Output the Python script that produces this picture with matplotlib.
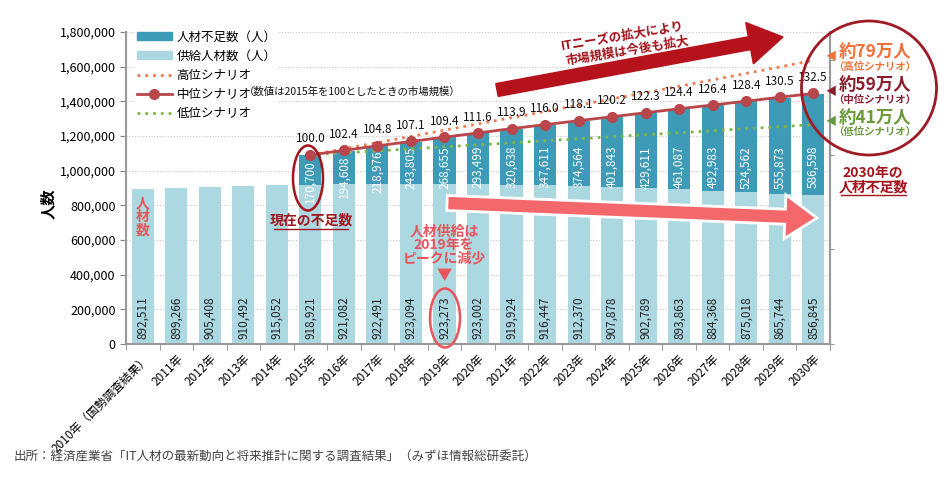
import matplotlib
matplotlib.use("Agg")
import matplotlib.pyplot as plt
from matplotlib.patches import Ellipse, FancyArrow, Patch
from matplotlib.lines import Line2D
from matplotlib.ticker import FuncFormatter, FixedLocator

plt.rcParams['font.family'] = ['Noto Sans CJK JP', 'DejaVu Sans']

# data
years = ["2010年（国勢調査結果）", "2011年", "2012年", "2013年", "2014年", "2015年", "2016年",
         "2017年", "2018年", "2019年", "2020年", "2021年", "2022年", "2023年", "2024年",
         "2025年", "2026年", "2027年", "2028年", "2029年", "2030年"]
supply = [892511, 899266, 905408, 910492, 915052, 918921, 921082, 922491, 923094, 923273,
          923002, 919924, 916447, 912370, 907878, 902789, 893863, 884368, 875018, 865744, 856845]
shortage = [0, 0, 0, 0, 0, 170700, 194608, 218976, 243805, 268655, 293499, 320638, 347611,
            374564, 401843, 429611, 461087, 492983, 524562, 555873, 586598]
# market size index (2015 = 100), from 2015 on
index_mid = [100.0, 102.4, 104.8, 107.1, 109.4, 111.6, 113.9, 116.0, 118.1, 120.2, 122.3,
             124.4, 126.4, 128.4, 130.5, 132.5]
index_high = [100.0, 103.2, 106.5, 109.8, 113.1, 116.4, 119.7, 123.0, 126.3, 129.6, 132.9,
              136.3, 139.7, 143.1, 146.5, 150.0]
index_low = [100.0, 101.1, 102.1, 103.2, 104.3, 105.3, 106.4, 107.5, 108.5, 109.6, 110.7,
             111.7, 112.8, 113.9, 114.9, 116.0]

c_short = "#3d9bb7"
c_supply = "#acd8e2"
c_mid = "#b8464b"
c_high = "#f07b50"
c_low = "#7fb548"
c_dark = "#a3141c"
c_pink = "#e8545a"

W, H = 948, 478
fig = plt.figure(figsize=(W / 100, H / 100), dpi=100)
ax = fig.add_axes([126 / W, 1 - 344 / H, (830 - 126) / W, (344 - 32) / H])


def px(x, y):
    return (x / W, 1 - y / H)


x = list(range(len(years)))
ax.bar(x, supply, width=0.66, color=c_supply, zorder=2)
ax.bar(x, shortage, width=0.66, bottom=supply, color=c_short, zorder=2)

ax.set_xlim(-0.5, len(years) - 0.5)
ax.set_ylim(0, 1800000)
ax.yaxis.set_major_locator(FixedLocator(range(0, 1800001, 200000)))
ax.yaxis.set_major_formatter(FuncFormatter(lambda v, p: f"{int(v):,}"))
ax.grid(axis="y", color="#c8c8c8", linestyle=(0, (1, 1.5)), linewidth=0.8, zorder=0)
ax.set_xticks(x)
ax.set_xticklabels(years, rotation=45, ha="right", rotation_mode="anchor", fontsize=8.5)
ax.set_xticks([i - 0.5 for i in range(len(years) + 1)], minor=True)
ax.tick_params(axis="x", which="major", length=0, pad=6)
ax.tick_params(axis="x", which="minor", length=4, color="#888888")
ax.tick_params(axis="y", length=4, color="#888888", labelsize=9)
ax.spines["top"].set_visible(False)
for s in ["left", "bottom", "right"]:
    ax.spines[s].set_color("#999999")
    ax.spines[s].set_linewidth(1.5)

# bar value labels
for i in x:
    ax.text(i, 150000, f"{supply[i]:,}", rotation=90, ha="center", va="center",
            fontsize=8.5, color="#222222", zorder=4)
    if shortage[i]:
        top = supply[i] + shortage[i]
        ax.text(i, min(top - 150000, 1020000), f"{shortage[i]:,}", rotation=90,
                ha="center", va="center", fontsize=8.5, color="white", zorder=4)

# market index lines on a secondary axis
ax2 = ax.twinx()
ax2.set_ylim(0, 165)
ax2.set_yticks([0, 50, 100, 150])
ax2.set_yticklabels([])
ax2.tick_params(axis="y", length=3, color="#999999")
for s in ["top", "left", "bottom"]:
    ax2.spines[s].set_visible(False)
ax2.spines["right"].set_color("#999999")
ax2.spines["right"].set_linewidth(1.5)
xi = x[5:]
ax2.plot(xi, index_high, color=c_high, linestyle=(0, (1, 1.8)), linewidth=2, zorder=3)
ax2.plot(xi, index_low, color=c_low, linestyle=(0, (1, 1.8)), linewidth=2, zorder=3)
ax2.plot(xi, index_mid, color=c_mid, linewidth=2, marker="o", markersize=7, zorder=4)
for xv, v in zip(xi, index_mid):
    ax2.text(xv, v + 5, f"{v:.1f}", ha="center", va="bottom", fontsize=8.5, color="#111111")

# legend
handles = [Patch(color=c_short), Patch(color=c_supply),
           Line2D([], [], color=c_high, linestyle=(0, (1, 1.8)), linewidth=2),
           Line2D([], [], color=c_mid, linewidth=2, marker="o", markersize=7),
           Line2D([], [], color=c_low, linestyle=(0, (1, 1.8)), linewidth=2)]
labels = ["人材不足数（人）", "供給人材数（人）", "高位シナリオ", "中位シナリオ", "低位シナリオ"]
leg = ax2.legend(handles, labels, loc="upper left", bbox_to_anchor=(0.012, 1.013),
                 fontsize=9, handlelength=2.8, handleheight=0.6, handletextpad=0.35,
                 labelspacing=0.5, frameon=True, facecolor="white", edgecolor="none",
                 framealpha=1, borderaxespad=0, borderpad=0.2)
leg.set_zorder(10)
fig.text(*px(244, 92), "（数値は2015年を100としたときの市場規模）", ha="left", va="center",
         fontsize=7.5, color="#111111", zorder=11)

# y label
fig.text(*px(48, 204), "人数", rotation=90, ha="center", va="center", fontsize=11,
         fontweight="bold")

# annotations
fig.text(*px(143, 217), "人\n材\n数", ha="center", va="center", fontsize=10,
         fontweight="bold", color=c_pink, linespacing=0.95)
fig.add_artist(Ellipse(px(308, 178), 30 / W, 65 / H, fill=False, edgecolor=c_dark,
                       linewidth=1.8, transform=fig.transFigure))
fig.text(*px(311, 221), "現在の不足数", ha="center", va="center", fontsize=10,
         fontweight="bold", color=c_dark)
fig.add_artist(Line2D([274 / W, 348 / W], [1 - 229 / H] * 2, color=c_dark, linewidth=1,
                      transform=fig.transFigure))
fig.text(*px(444, 245), "人材供給は\n2019年を\nピークに減少", ha="center", va="center",
         fontsize=10, fontweight="bold", color=c_pink, linespacing=1.0)
fig.text(*px(444, 275), "▼", ha="center", va="center", fontsize=11, color=c_pink)
fig.add_artist(Ellipse(px(445, 318), 30 / W, 59 / H, fill=False, edgecolor=c_pink,
                       linewidth=1.8, transform=fig.transFigure))

# arrows (display pixels, origin bottom-left)
fig.add_artist(FancyArrow(497, H - 90, 286, 53, width=13, head_width=42, head_length=34,
                          length_includes_head=True, color="#b5121b",
                          transform=None, zorder=5))
fig.add_artist(FancyArrow(447, H - 203, 370, -15, width=15, head_width=44, head_length=32,
                          length_includes_head=True, facecolor="#f4686c",
                          edgecolor="white", linewidth=2, transform=None, zorder=5))
fig.text(*px(622, 36), "ITニーズの拡大により", ha="center", va="center", fontsize=9,
         fontweight="bold", color=c_dark, rotation=9.5)
fig.text(*px(627, 51), "市場規模は今後も拡大", ha="center", va="center", fontsize=9,
         fontweight="bold", color=c_dark, rotation=9.5)

# right side circle
fig.add_artist(Ellipse(px(869, 88), 135 / W, 134 / H, fill=False, edgecolor="#a01a26",
                       linewidth=2, transform=fig.transFigure, zorder=6))
for y_big, y_small, big, small, col in [(52, 67, "約79万人", "（高位シナリオ）", "#f07038"),
                                         (85, 100, "約59万人", "（中位シナリオ）", "#8b1d2c"),
                                         (118, 132, "約41万人", "（低位シナリオ）", "#6a9a3c")]:
    fig.text(*px(875, y_big), big, ha="center", va="center", fontsize=12.5,
             fontweight="bold", color=col)
    fig.text(*px(875, y_small), small, ha="center", va="center", fontsize=7.5,
             fontweight="bold", color=col)
fig.text(*px(831, 57), "◀", ha="center", va="center", fontsize=8, color="#f07038")
fig.text(*px(831, 92), "◀", ha="center", va="center", fontsize=8, color="#8b1d2c")
fig.text(*px(831, 122), "◀", ha="center", va="center", fontsize=8, color="#6a9a3c")
fig.text(*px(873, 173), "2030年の", ha="center", va="center", fontsize=10,
         fontweight="bold", color=c_dark)
fig.text(*px(873, 187), "人材不足数", ha="center", va="center", fontsize=10,
         fontweight="bold", color=c_dark)
fig.add_artist(Line2D([848 / W, 899 / W], [1 - 181 / H] * 2, color=c_dark, linewidth=1,
                      transform=fig.transFigure))
fig.add_artist(Line2D([841 / W, 906 / W], [1 - 195 / H] * 2, color=c_dark, linewidth=1,
                      transform=fig.transFigure))

fig.text(*px(14, 456), "出所：経済産業省「IT人材の最新動向と将来推計に関する調査結果」（みずほ情報総研委託）",
         ha="left", va="center", fontsize=9, color="#444444")

fig.savefig("out.png", dpi=100)
